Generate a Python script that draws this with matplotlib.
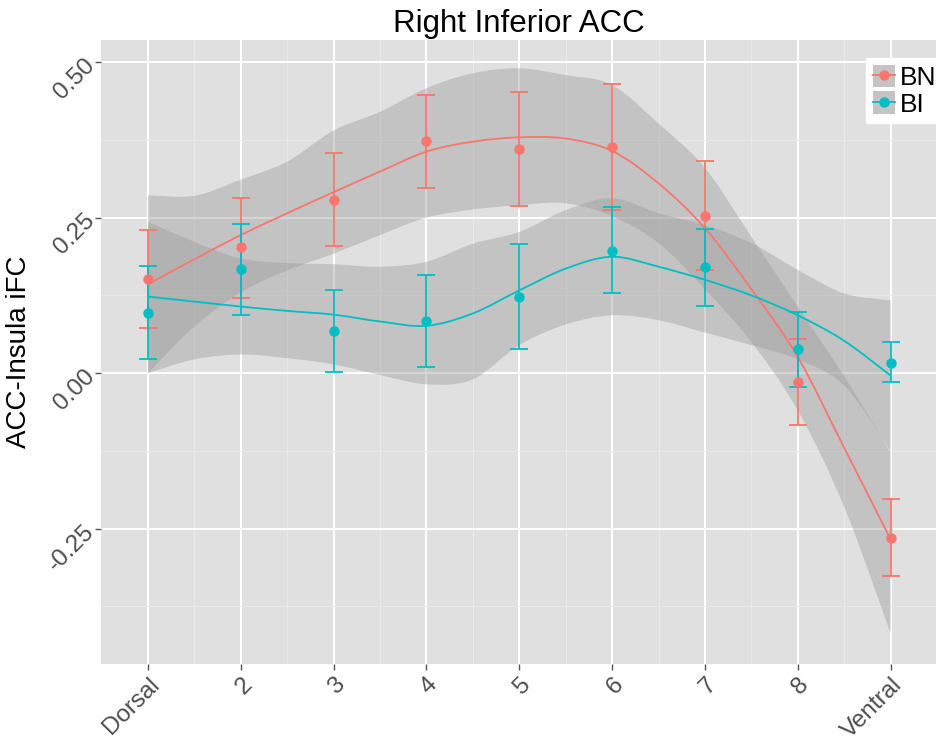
import numpy as np
import matplotlib
matplotlib.use('Agg')
import matplotlib.pyplot as plt
from matplotlib.path import Path
from matplotlib.patches import PathPatch, Patch
from matplotlib.lines import Line2D

plt.rcParams['font.family'] = ['Liberation Sans', 'DejaVu Sans']

# positions along the ACC (dorsal -> ventral)
positions = [1, 2, 3, 4, 5, 6, 7, 8, 9]
tick_labels = ['Dorsal', '2', '3', '4', '5', '6', '7', '8', 'Ventral']

# group means and error bar ends
bn_mean = [0.152, 0.202, 0.279, 0.373, 0.360, 0.363, 0.253, -0.014, -0.265]
bn_hi = [0.230, 0.282, 0.354, 0.447, 0.452, 0.465, 0.341, 0.055, -0.203]
bn_lo = [0.073, 0.121, 0.205, 0.298, 0.268, 0.262, 0.165, -0.084, -0.326]

bi_mean = [0.096, 0.167, 0.068, 0.084, 0.123, 0.197, 0.171, 0.038, 0.017]
bi_hi = [0.172, 0.240, 0.133, 0.157, 0.208, 0.267, 0.232, 0.098, 0.050]
bi_lo = [0.023, 0.094, 0.002, 0.010, 0.038, 0.128, 0.108, -0.022, -0.015]

# smoothed fits and confidence bands, read at half steps
smooth_x = [1, 1.5, 2, 2.5, 3, 3.5, 4, 4.5, 5, 5.5, 6, 6.5, 7, 7.5, 8, 8.5, 9]
bn_fit = [0.143, 0.183, 0.222, 0.257, 0.291, 0.324, 0.356, 0.372, 0.379, 0.377,
          0.357, 0.305, 0.233, 0.135, 0.026, -0.120, -0.267]
bn_upper = [0.286, 0.285, 0.311, 0.340, 0.390, 0.420, 0.458, 0.482, 0.490, 0.479,
            0.463, 0.401, 0.330, 0.219, 0.107, -0.005, -0.127]
bn_lower = [0.000, 0.075, 0.130, 0.165, 0.192, 0.222, 0.250, 0.263, 0.270, 0.273,
            0.252, 0.209, 0.135, 0.050, -0.060, -0.215, -0.418]
bi_fit = [0.123, 0.115, 0.107, 0.100, 0.094, 0.083, 0.076, 0.096, 0.133, 0.168,
          0.187, 0.171, 0.150, 0.125, 0.093, 0.052, -0.004]
bi_upper = [0.243, 0.211, 0.184, 0.177, 0.175, 0.171, 0.179, 0.208, 0.227, 0.262,
            0.281, 0.257, 0.238, 0.209, 0.166, 0.128, 0.117]
bi_lower = [0.000, 0.022, 0.030, 0.024, 0.014, -0.003, -0.018, -0.010, 0.045, 0.078,
            0.093, 0.085, 0.065, 0.045, 0.022, -0.020, -0.125]

groups = ['BN', 'BI']
colors = {'BN': '#F8766D', 'BI': '#00BFC4'}


def bezier(xs, ys):
    # catmull-rom through the read points, as cubic bezier segments
    pts = np.column_stack([xs, ys]).astype(float)
    n = len(pts)
    verts = [pts[0]]
    codes = [Path.MOVETO]
    for i in range(n - 1):
        p0 = pts[max(i - 1, 0)]
        p1 = pts[i]
        p2 = pts[i + 1]
        p3 = pts[min(i + 2, n - 1)]
        verts += [p1 + (p2 - p0) / 6, p2 - (p3 - p1) / 6, p2]
        codes += [Path.CURVE4] * 3
    return verts, codes


def band(ax, xs, up, lo):
    v1, c1 = bezier(xs, up)
    v2, c2 = bezier(xs[::-1], lo[::-1])
    c2[0] = Path.LINETO
    verts = v1 + v2 + [v1[0]]
    codes = c1 + c2 + [Path.CLOSEPOLY]
    ax.add_patch(PathPatch(Path(verts, codes), facecolor='#999999', alpha=0.4,
                           edgecolor='none', zorder=2))


def curve(ax, xs, ys, color):
    v, c = bezier(xs, ys)
    ax.add_patch(PathPatch(Path(v, c), facecolor='none', edgecolor=color,
                           lw=1.3, zorder=3))


fig = plt.figure(figsize=(9.37, 7.42), dpi=100)
ax = fig.add_axes([0.1078, 0.1051, 0.8922, 0.841])
ax.set_facecolor('#E0E0E0')

data = {
    'BN': (bn_mean, bn_hi, bn_lo, bn_fit, bn_upper, bn_lower),
    'BI': (bi_mean, bi_hi, bi_lo, bi_fit, bi_upper, bi_lower),
}

for g in groups:
    mean, hi, lo, fit, up, low = data[g]
    band(ax, smooth_x, up, low)
for g in groups:
    mean, hi, lo, fit, up, low = data[g]
    c = colors[g]
    curve(ax, smooth_x, fit, c)
    mean = np.array(mean)
    err = [mean - np.array(lo), np.array(hi) - mean]
    ax.errorbar(positions, mean, yerr=err, fmt='none', ecolor=c, elinewidth=1.3,
                capsize=6.5, capthick=1.3, zorder=4)
    ax.plot(positions, mean, 'o', color=c, ms=6.5, zorder=5)

ax.set_xlim(0.4935, 9.5)
ax.set_ylim(-0.4675, 0.5354)
ax.set_xticks(positions)
ax.set_xticklabels(tick_labels)
ax.set_xticks([p + 0.5 for p in positions[:-1]], minor=True)
ax.set_yticks([-0.25, 0.0, 0.25, 0.5])
ax.set_yticklabels(['-0.25', '0.00', '0.25', '0.50'])
ax.set_yticks([-0.375, -0.125, 0.125, 0.375], minor=True)

ax.grid(which='major', color='white', lw=1.4)
ax.grid(which='minor', color='#EAEAEA', lw=0.7)
ax.set_axisbelow(True)
for s in ax.spines.values():
    s.set_visible(False)

ax.tick_params(which='major', length=4, width=1, color='#555555',
               labelcolor='#4D4D4D', labelsize=17.5, pad=3)
ax.tick_params(which='minor', length=0)
plt.setp(ax.get_xticklabels(), rotation=45, ha='right', va='top',
         rotation_mode='anchor')
plt.setp(ax.get_yticklabels(), rotation=45, ha='right', va='center',
         rotation_mode='anchor')

ax.set_title('Right Inferior ACC', fontsize=22.5, pad=6)
ax.set_ylabel('ACC-Insula iFC', fontsize=20)
ax.yaxis.set_label_coords(-0.082, 0.5)

handles = []
for g in groups:
    handles.append((Patch(facecolor='#C4C4C4', edgecolor='none'),
                    Line2D([], [], color=colors[g], lw=1.3, marker='o', ms=6.5)))
leg = fig.legend(handles, groups, loc='upper left', bbox_to_anchor=(866 / 937, 1 - 58 / 742),
                 fontsize=19, frameon=True, fancybox=False, edgecolor='white',
                 framealpha=1, borderpad=0.25, labelspacing=0.05, handlelength=0.85,
                 handleheight=0.95, handletextpad=0.2, borderaxespad=0)

fig.savefig('out.png', dpi=100)
